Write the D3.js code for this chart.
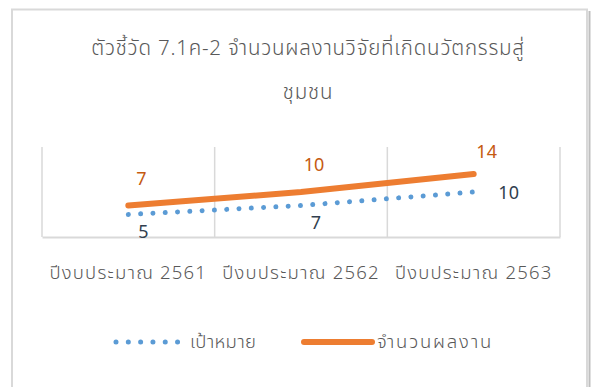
<!DOCTYPE html>
<html>
<head>
<meta charset="utf-8">
<script src="https://cdn.jsdelivr.net/npm/d3@7"></script>
<style>
  body { margin: 0; background: #fff; }
  text { font-family: "Noto Sans", "Noto Sans Thai", "Open Sans", sans-serif; font-weight: 300; }
  text.num { font-weight: 400; }
</style>
</head>
<body>
<script>
// data
var categories = ["ปีงบประมาณ 2561", "ปีงบประมาณ 2562", "ปีงบประมาณ 2563"];
var target = [5, 7, 10];      // เป้าหมาย
var actual = [7, 10, 14];     // จำนวนผลงาน
var seriesNames = ["เป้าหมาย", "จำนวนผลงาน"];
var titleLines = ["ตัวชี้วัด 7.1ค-2 จำนวนผลงานวิจัยที่เกิดนวัตกรรมสู่", "ชุมชน"];

var W = 592, H = 387,
    plot = {left: 42, right: 560, top: 147, bottom: 237};

var svg = d3.select("body").append("svg")
    .attr("width", W)
    .attr("height", H);

// chart frame
svg.append("path")
    .attr("d", "M12,387 V9.5 H587 V387")
    .attr("fill", "none")
    .attr("stroke", "#d9d9d9")
    .attr("stroke-width", 2);
svg.append("line")
    .attr("x1", 589.5).attr("x2", 589.5)
    .attr("y1", 11).attr("y2", 387)
    .attr("stroke", "#bfbfbf")
    .attr("stroke-width", 2);

// title
svg.selectAll(".title")
    .data(titleLines)
    .enter().append("text")
    .attr("class", "title")
    .attr("x", 308)
    .attr("y", function(d, i) { return 55 + i * 44; })
    .attr("text-anchor", "middle")
    .attr("fill", "#595959")
    .style("font-size", "20.5px")
    .style("letter-spacing", "0.8px")
    .text(function(d) { return d; });

var x = d3.scaleBand().domain(categories).range([plot.left, plot.right]);
var y = d3.scaleLinear().domain([0, 20]).range([plot.bottom, plot.top]);

// vertical gridlines between categories
var bounds = [plot.left].concat(categories.map(function(c) { return x(c) + x.bandwidth(); }));
svg.selectAll(".grid")
    .data(bounds)
    .enter().append("line")
    .attr("x1", function(d) { return d; })
    .attr("x2", function(d) { return d; })
    .attr("y1", plot.top)
    .attr("y2", plot.bottom)
    .attr("stroke", "#d9d9d9")
    .attr("stroke-width", 1.5);

// category axis
var xAxis = svg.append("g")
    .attr("transform", "translate(0," + plot.bottom + ")")
    .call(d3.axisBottom(x).tickSize(0).tickPadding(29));
xAxis.select(".domain").attr("stroke", "#d9d9d9").attr("stroke-width", 2);
xAxis.selectAll("text")
    .attr("fill", "#595959")
    .style("font-family", null)
    .style("font-size", "18.5px")
    .style("letter-spacing", "1.2px");

var cx = function(d, i) { return x(categories[i]) + x.bandwidth() / 2; };

var line = d3.line()
    .x(function(d, i) { return cx(d, i); })
    .y(function(d) { return y(d); });

svg.append("path")
    .datum(target)
    .attr("d", line)
    .attr("fill", "none")
    .attr("stroke", "#5b9bd5")
    .attr("stroke-width", 5)
    .attr("stroke-linecap", "round")
    .attr("stroke-dasharray", "0.01 12.3");

svg.append("path")
    .datum(actual)
    .attr("d", line)
    .attr("fill", "none")
    .attr("stroke", "#ed7d31")
    .attr("stroke-width", 6)
    .attr("stroke-linecap", "round");

// labels
svg.selectAll(".lblA")
    .data(actual)
    .enter().append("text")
    .attr("class", "num")
    .attr("x", function(d, i) { return cx(d, i) + 13; })
    .attr("y", function(d, i) { return y(d) - (i == 2 ? 16 : 21); })
    .attr("text-anchor", "middle")
    .attr("fill", "#c55a11")
    .style("font-size", "18px")
    .text(function(d) { return d; });

svg.selectAll(".lblT")
    .data(target)
    .enter().append("text")
    .attr("class", "num")
    .attr("x", function(d, i) { return cx(d, i) + (i == 2 ? 35 : 15); })
    .attr("y", function(d, i) { return y(d) + (i == 2 ? 7 : 23); })
    .attr("text-anchor", "middle")
    .attr("fill", "#323f4f")
    .style("font-size", "18px")
    .text(function(d) { return d; });

// legend
var leg = svg.append("g");
leg.append("line")
    .attr("x1", 116).attr("x2", 180)
    .attr("y1", 342).attr("y2", 342)
    .attr("stroke", "#5b9bd5")
    .attr("stroke-width", 5)
    .attr("stroke-linecap", "round")
    .attr("stroke-dasharray", "0.01 12.3");
leg.append("text")
    .attr("x", 190).attr("y", 348)
    .attr("fill", "#595959")
    .style("font-size", "18.5px")
    .style("letter-spacing", "0.3px")
    .text(seriesNames[0]);
leg.append("line")
    .attr("x1", 304).attr("x2", 372)
    .attr("y1", 342).attr("y2", 342)
    .attr("stroke", "#ed7d31")
    .attr("stroke-width", 6)
    .attr("stroke-linecap", "round");
leg.append("text")
    .attr("x", 377).attr("y", 348)
    .attr("fill", "#595959")
    .style("font-size", "18.5px")
    .style("letter-spacing", "1.8px")
    .text(seriesNames[1]);
</script>
</body>
</html>
